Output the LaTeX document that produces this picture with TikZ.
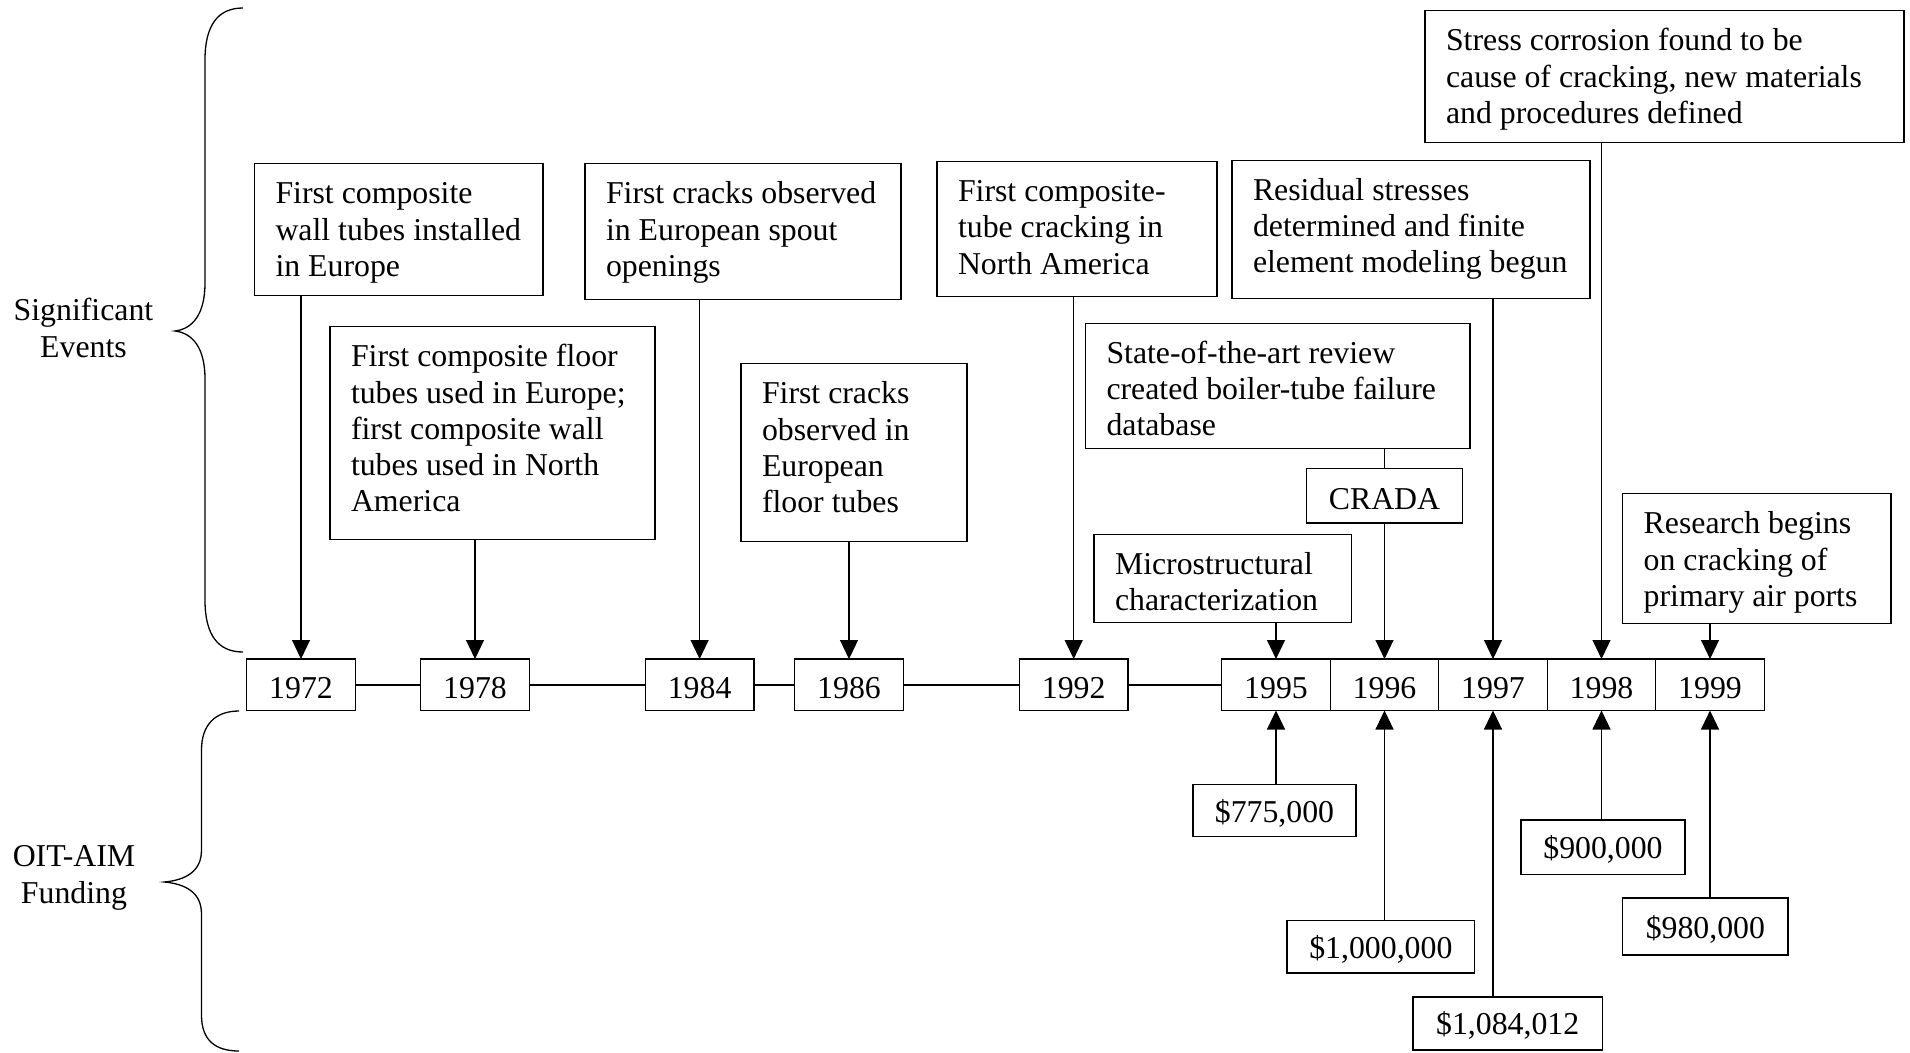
\documentclass[tikz,border=0pt]{standalone}
\usepackage{fontspec}
\setmainfont{Liberation Serif}
\usetikzlibrary{positioning,arrows.meta}

\begin{document}
\begin{tikzpicture}[
        x=1pt, y=-1pt,
        font=\fontsize{31.8}{36.3}\selectfont,
        >={Triangle[length=19pt,width=18pt]},
        event/.style={
            rectangle, draw = black, line width = 1.4pt, inner xsep = 21pt, inner ysep = 18pt,
            text height = 22pt, anchor = north, align = left,
            execute at begin node = {\spaceskip=0pt\xspaceskip=0pt\hyphenpenalty=10000}
        },
        year/.style={
            rectangle, draw = black, line width = 1.4pt, inner sep = 0pt, outer sep = 0pt,
            minimum width = 108.5pt, minimum height = 51.5pt, text height = 28pt
        },
        boxed/.style={
            rectangle, draw = black, line width = 1.4pt, inner sep = 0pt, text height = 28pt
        },
        link/.style={line width = 1.1pt},
        axis/.style={line width = 1.6pt},
        curly/.style={line width = 1.3pt},
    ]
        \useasboundingbox (0,0) rectangle (1910,1052);

        \node (sigEvents) [align=center] at (83.5,328) {Significant\\Events};
        \draw[curly] (243,8) .. controls (218,8) and (205,25) .. (205,60) -- (205,283) .. controls (205,315) and (192,329) .. (175,331) .. controls (192,333) and (205,347) .. (205,379) -- (205,600) .. controls (205,635) and (218,652) .. (243,652);

        \node (oitFunding) [align=center] at (74,878) {OIT-AIM\\Funding};
        \draw[curly] (239,711) .. controls (215,711) and (201.5,725) .. (201.5,750) -- (201.5,850) .. controls (201.5,872) and (185,880) .. (164.5,882) .. controls (185,884) and (201.5,892) .. (201.5,914) -- (201.5,1015) .. controls (201.5,1040) and (215,1051) .. (239,1051);

        \node (y1972) [year] at (301,684.75) {1972};
        \node (y1978) [year] at (475,684.75) {1978};
        \node (y1984) [year] at (699.6,684.75) {1984};
        \node (y1986) [year] at (849,684.75) {1986};
        \node (y1992) [year] at (1073.7,684.75) {1992};
        \node (y1995) [year] at (1276,684.75) {1995};
        \node (y1996) [year,right=0pt of y1995] {1996};
        \node (y1997) [year,right=0pt of y1996] {1997};
        \node (y1998) [year,right=0pt of y1997] {1998};
        \node (y1999) [year,right=0pt of y1998] {1999};
        \path (y1972) edge[axis] (y1978);
        \path (y1978) edge[axis] (y1984);
        \path (y1984) edge[axis] (y1986);
        \path (y1986) edge[axis] (y1992);
        \path (y1992) edge[axis] (y1995);

        \node (wallTubes) [event, text width=246.5pt, text depth=74pt] at (398.75,163) {First composite\\wall tubes installed\\in Europe};
        \path (wallTubes.south -| y1972) edge[link,->] (y1972);

        \node (floorTubes) [event, text width=283pt, text depth=154.5pt] at (492.5,326) {First composite floor\\tubes used in Europe;\\first composite wall\\tubes used in North\\America};
        \path (floorTubes.south -| y1978) edge[link,->] (y1978);

        \node (spoutCracks) [event, text width=274pt, text depth=77.5pt] at (743,163) {First cracks observed\\in European spout\\openings};
        \path (spoutCracks.south -| y1984) edge[link,->] (y1984);

        \node (floorCracks) [event, text width=184pt, text depth=120pt] at (854,363) {First cracks\\observed in\\European\\floor tubes};
        \path (floorCracks.south -| y1986) edge[link,->] (y1986);

        \node (naCracking) [event, text width=238pt, text depth=77.3pt] at (1077,160.7) {First composite-\\tube cracking in\\North America};
        \path (naCracking.south -| y1992) edge[link,->] (y1992);

        \node (microChar) [event, text width=215.7pt, text depth=30.2pt] at (1222.85,533.6) {Microstructural\\characterization};
        \path (microChar.south -| y1995) edge[link,->] (y1995);

        \node (review) [event, text width=342.5pt, text depth=67pt] at (1277.75,322.5) {State-of-the-art review\\created boiler-tube failure\\database};
        \node (crada) [boxed, minimum width=156.5pt, minimum height=54.4pt] at (1384.5,495.8) {CRADA};
        \path (review.south -| crada) edge[link] (crada);
        \path (crada) edge[link,->] (y1996);

        \node (residual) [event, text width=316pt, text depth=80.4pt] at (1411,159.6) {Residual stresses\\determined and finite\\element modeling begun};
        \path (residual.south -| y1997) edge[link,->] (y1997);

        \node (stressCorr) [event, text width=437pt, text depth=74pt] at (1664.5,10) {Stress corrosion found to be\\cause of cracking, new materials\\and procedures defined};
        \path (stressCorr.south -| y1998) edge[link,->] (y1998);

        \node (airPorts) [event, text width=226.3pt, text depth=71.8pt] at (1756.85,493) {Research begins\\on cracking of\\primary air ports};
        \path (airPorts.south -| y1999) edge[link,->] (y1999);

        \node (f1995) [boxed, minimum width=163pt, minimum height=52pt] at (1274.5,810.65) {\$775,000};
        \path (f1995.north -| y1995) edge[link,->] (y1995);
        \node (f1996) [boxed, minimum width=187.7pt, minimum height=52.6pt] at (1380.85,946.7) {\$1,000,000};
        \path (f1996.north -| y1996) edge[link,->] (y1996);
        \node (f1997) [boxed, minimum width=189.4pt, minimum height=53pt] at (1507.7,1023.4) {\$1,084,012};
        \path (f1997.north -| y1997) edge[link,->] (y1997);
        \node (f1998) [boxed, minimum width=164pt, minimum height=54.6pt] at (1603,847.3) {\$900,000};
        \path (f1998.north -| y1998) edge[link,->] (y1998);
        \node (f1999) [boxed, minimum width=165.3pt, minimum height=57pt] at (1705.35,926.5) {\$980,000};
        \path (f1999.north -| y1999) edge[link,->] (y1999);

    \end{tikzpicture}
\end{document}
